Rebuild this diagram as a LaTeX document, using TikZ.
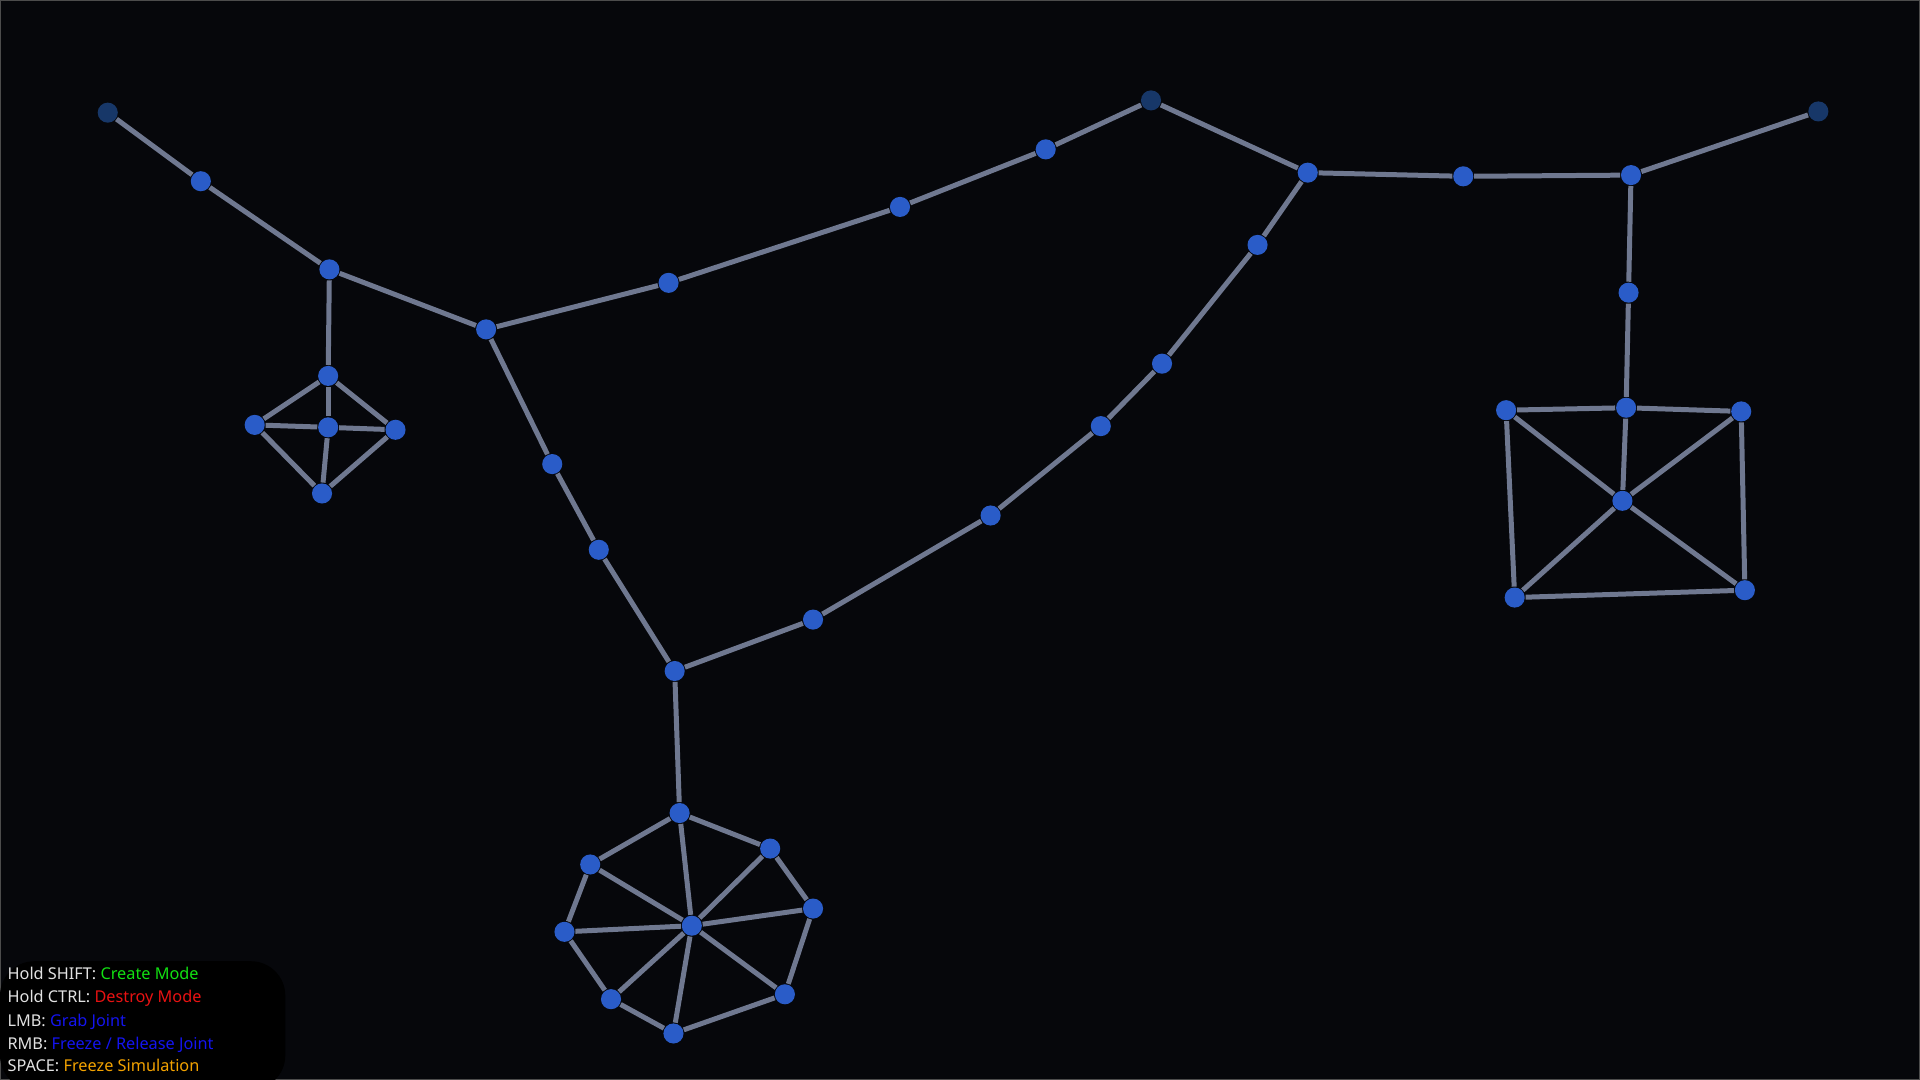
\documentclass[tikz,border=0pt]{standalone}
\usepackage{fontspec}
\newfontfamily\hudfont{Noto Sans}
\usetikzlibrary{backgrounds}

\definecolor{bgcol}{HTML}{06070B}
\definecolor{rodcol}{HTML}{6F7890}
\definecolor{jointcol}{HTML}{2A5CC8}
\definecolor{frozencol}{HTML}{173768}
\definecolor{hudwhite}{HTML}{E2E2E2}
\definecolor{hudgreen}{HTML}{12E012}
\definecolor{hudred}{HTML}{E81212}
\definecolor{hudblue}{HTML}{1414F0}
\definecolor{hudorange}{HTML}{F2A200}

\tikzset{
  joint/.style={circle,fill=jointcol,inner sep=0pt,minimum size=0.164cm},
  frozen/.style={joint,fill=frozencol},
  rod/.style={draw=rodcol,line width=1.16pt},
  hud/.style={anchor=base west,inner sep=0pt,font=\hudfont\fontsize{3.78pt}{5.4pt}\selectfont,text=hudwhite}
}

\begin{document}
\begin{tikzpicture}[x=0.01cm,y=-0.01cm]
            \useasboundingbox (0,0) rectangle (1568,882);

            % Frozen joints
            \foreach \n/\x/\y in {fa/88/92,fb/940/82,fc/1485/91}{
            \node[frozen] (\n) at (\x,\y) {};
            }

            % Chain joints
            \foreach \n/\x/\y in {j1/164/148,j2/269/220,j3/397/269,j4/546/231,j5/735/169,
                j6/854/122,j7/1068/141,j8/1195/144,j9/1332/143,j10/1330/239,
                j11/1027/200,j12/949/297,j13/899/348,j14/809/421,j15/664/506,
                j16/551/548,j17/451/379,j18/489/449}{
            \node[joint] (\n) at (\x,\y) {};
            }

            % Diamond
            \foreach \n/\x/\y in {d1/268/307,d2/208/347,d3/268/349,d4/323/351,d5/263/403}{
            \node[joint] (\n) at (\x,\y) {};
            }

            % Box
            \foreach \n/\x/\y in {b1/1230/335,b2/1328/333,b3/1422/336,b4/1325/409,b5/1237/488,b6/1425/482}{
            \node[joint] (\n) at (\x,\y) {};
            }

            % Wheel
            \foreach \n/\x/\y in {w0/555/664,w1/629/693,w2/664/742,w3/641/812,w4/550/844,
                w5/499/816,w6/461/761,w7/482/706,hub/565/756}{
            \node[joint] (\n) at (\x,\y) {};
            }

            \begin{scope}[on background layer]
            \fill[bgcol] (0,0) rectangle (1568,882);
            \draw[gray!60!black,line width=0.25pt] (0.4,0.4) rectangle (1567.6,881.6);
            \foreach \a/\b in {fa/j1,j1/j2,j2/j3,j2/d1,j3/j4,j4/j5,j5/j6,j6/fb,fb/j7,j7/j8,
                j8/j9,j9/fc,j9/j10,j10/b2,j7/j11,j11/j12,j12/j13,j13/j14,j14/j15,j15/j16,
                j3/j17,j17/j18,j18/j16,j16/w0}{
            \draw[rod] (\a) -- (\b);
            }
            \foreach \a/\b in {d1/d2,d1/d3,d1/d4,d2/d3,d3/d4,d2/d5,d3/d5,d4/d5}{
            \draw[rod] (\a) -- (\b);
            }
            \foreach \a/\b in {b1/b2,b2/b3,b1/b5,b3/b6,b5/b6,b1/b4,b2/b4,b3/b4,b5/b4,b6/b4}{
            \draw[rod] (\a) -- (\b);
            }
            \foreach \a/\b in {w0/w1,w1/w2,w2/w3,w3/w4,w4/w5,w5/w6,w6/w7,w7/w0}{
            \draw[rod] (\a) -- (\b);
            \draw[rod] (hub) -- (\a);
            }
            \end{scope}

            % Controls
            \fill[black,rounded corners=8] (0,785) rectangle (233,890);
            \node[hud] (key0) at (5.5,800) {Hold SHIFT: \textcolor{hudgreen}{Create Mode}};
            \node[hud] (key1) at (5.5,819) {Hold CTRL: \textcolor{hudred}{Destroy Mode}};
            \node[hud] (key2) at (5.5,838) {LMB: \textcolor{hudblue}{Grab Joint}};
            \node[hud] (key3) at (5.5,857) {RMB: \textcolor{hudblue}{Freeze / Release Joint}};
            \node[hud] (key4) at (5.5,875) {SPACE: \textcolor{hudorange}{Freeze Simulation}};
        \end{tikzpicture}
\end{document}
